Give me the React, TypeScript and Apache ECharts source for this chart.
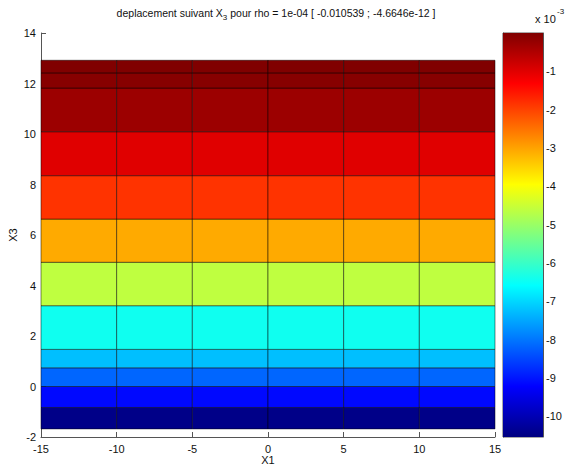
import React, { useEffect, useRef } from "react";
import * as echarts from "echarts";

// Mesh columns (X1) and layer boundaries (X3)
const xEdges = [-15, -10, -5, 0, 5, 10, 15];
const yEdges = [-1.68, -0.83, 0, 0.74, 1.47, 3.2, 4.92, 6.63, 8.35, 10.09, 11.82, 12.42, 12.92];
// displacement value per layer, in units of 1e-3
const bandValues = [-10.45, -9.14, -8.17, -7.25, -6.43, -4.61, -3.07, -1.84, -1.0, -0.29, -0.08, 0];
const cMin = -10.539;
const cMax = 0;
const xTicks = { min: -15, max: 15, interval: 5 };
const yTicks = { min: -2, max: 14, interval: 2 };
const cbTicks = [-10, -9, -8, -7, -6, -5, -4, -3, -2, -1];

const FONT = "'Liberation Sans', Arial, Helvetica, sans-serif";

function clamp(v: number) {
  return Math.max(0, Math.min(1, v));
}
function jet(t: number) {
  t = clamp(t);
  const r = clamp(Math.min(4 * t - 1.5, -4 * t + 4.5));
  const g = clamp(Math.min(4 * t - 0.5, -4 * t + 3.5));
  const b = clamp(Math.min(4 * t + 0.5, -4 * t + 2.5));
  const h = (x: number) => Math.round(x * 255).toString(16).padStart(2, "0");
  return "#" + h(r) + h(g) + h(b);
}
const colorOf = (v: number) => jet((v - cMin) / (cMax - cMin));

export default function App() {
  const ref = useRef<HTMLDivElement>(null);
  useEffect(() => {
    const chart = echarts.init(ref.current!, null, { renderer: "svg" });

    const cells: number[][] = [];
    for (let j = 0; j < bandValues.length; j++) {
      for (let i = 0; i < xEdges.length - 1; i++) {
        cells.push([xEdges[i], xEdges[i + 1], yEdges[j], yEdges[j + 1], bandValues[j]]);
      }
    }

    const jetStops = [1, 0.875, 0.625, 0.375, 0.125, 0].map((t) => ({
      offset: 1 - t,
      color: jet(t),
    }));

    const axisColor = "#555";
    const labelStyle = { color: "#111", fontFamily: FONT, fontSize: 11 };

    const option: any = {
      animation: false,
      backgroundColor: "#fff",
      textStyle: { fontFamily: FONT },
      grid: [
        { left: 41, right: 71, top: 33, bottom: 32, outerBoundsMode: "none", containLabel: false },
        {
          left: 503,
          width: 40,
          top: 33,
          bottom: 32,
          outerBoundsMode: "none",
          containLabel: false,
          show: true,
          borderColor: axisColor,
          borderWidth: 1,
          backgroundColor: "transparent",
        },
      ],
      xAxis: [
        {
          type: "value",
          gridIndex: 0,
          min: xTicks.min,
          max: xTicks.max,
          interval: xTicks.interval,
          name: "X1",
          nameLocation: "middle",
          nameGap: 17,
          nameMoveOverlap: false,
          nameTextStyle: labelStyle,
          axisLine: { show: true, onZero: false, lineStyle: { color: axisColor } },
          axisTick: { show: true, inside: true, length: 5, lineStyle: { color: axisColor } },
          axisLabel: { ...labelStyle, margin: 6 },
          splitLine: { show: false },
        },
        { type: "value", gridIndex: 1, min: 0, max: 1, show: false },
      ],
      yAxis: [
        {
          type: "value",
          gridIndex: 0,
          min: yTicks.min,
          max: yTicks.max,
          interval: yTicks.interval,
          name: "X3",
          nameLocation: "middle",
          nameGap: 23,
          nameMoveOverlap: false,
          nameTextStyle: labelStyle,
          axisLine: { show: true, onZero: false, lineStyle: { color: axisColor } },
          axisTick: { show: true, inside: true, length: 5, lineStyle: { color: axisColor } },
          axisLabel: { ...labelStyle, margin: 5 },
          splitLine: { show: false },
        },
        {
          type: "value",
          gridIndex: 1,
          position: "right",
          min: cMin,
          max: cMax,
          axisLine: { show: true, onZero: false, lineStyle: { color: axisColor } },
          axisTick: { show: true, inside: true, length: 4, customValues: cbTicks, lineStyle: { color: axisColor } },
          axisLabel: { ...labelStyle, margin: 3, customValues: cbTicks, formatter: (v: number) => String(v) },
          splitLine: { show: false },
        },
        {
          type: "value",
          gridIndex: 1,
          position: "left",
          min: cMin,
          max: cMax,
          axisLine: { show: true, onZero: false, lineStyle: { color: axisColor } },
          axisTick: { show: true, inside: true, length: 4, customValues: cbTicks, lineStyle: { color: axisColor } },
          axisLabel: { show: false },
          splitLine: { show: false },
        },
      ],
      series: [
        {
          type: "custom",
          xAxisIndex: 0,
          yAxisIndex: 0,
          encode: { x: [0, 1], y: [2, 3] },
          data: cells,
          renderItem: (params: any, api: any) => {
            const p0 = api.coord([api.value(0), api.value(3)]);
            const p1 = api.coord([api.value(1), api.value(2)]);
            return {
              type: "rect",
              shape: { x: p0[0], y: p0[1], width: p1[0] - p0[0], height: p1[1] - p0[1] },
              style: { fill: colorOf(api.value(4)), stroke: "rgba(0,0,0,0.6)", lineWidth: 0.8 },
            };
          },
        },
        {
          type: "custom",
          xAxisIndex: 1,
          yAxisIndex: 1,
          encode: { x: [0, 1], y: [2, 3] },
          data: [[0, 1, cMin, cMax]],
          renderItem: (params: any, api: any) => {
            const p0 = api.coord([api.value(0), api.value(3)]);
            const p1 = api.coord([api.value(1), api.value(2)]);
            return {
              type: "rect",
              shape: { x: p0[0], y: p0[1], width: p1[0] - p0[0], height: p1[1] - p0[1] },
              style: {
                fill: { type: "linear", x: 0, y: 0, x2: 0, y2: 1, colorStops: jetStops },
              },
            };
          },
        },
      ],
      graphic: [
        {
          type: "text",
          x: 276,
          y: 13,
          style: {
            text: "{n|deplacement suivant X}{s|3}{n| pour rho = 1e-04 [ -0.010539 ; -4.6646e-12 ]}",
            align: "center",
            verticalAlign: "middle",
            fill: "#111",
            rich: {
              n: { fontFamily: FONT, fontSize: 10.5, fill: "#111", verticalAlign: "middle", lineHeight: 16 },
              s: { fontFamily: FONT, fontSize: 8, fill: "#111", verticalAlign: "bottom", lineHeight: 16 },
            },
          },
        },
        {
          type: "text",
          x: 535,
          y: 19,
          style: { text: "x 10", fontFamily: FONT, fontSize: 11, fill: "#111", verticalAlign: "middle" },
        },
        {
          type: "text",
          x: 557,
          y: 11,
          style: { text: "-3", fontFamily: FONT, fontSize: 8, fill: "#111", verticalAlign: "middle" },
        },
      ],
    };

    chart.setOption(option);
    return () => chart.dispose();
  }, []);
  return (
    <div
      ref={ref}
      style={{ position: "fixed", left: 0, top: 0, width: 566, height: 469, background: "#fff" }}
    />
  );
}
